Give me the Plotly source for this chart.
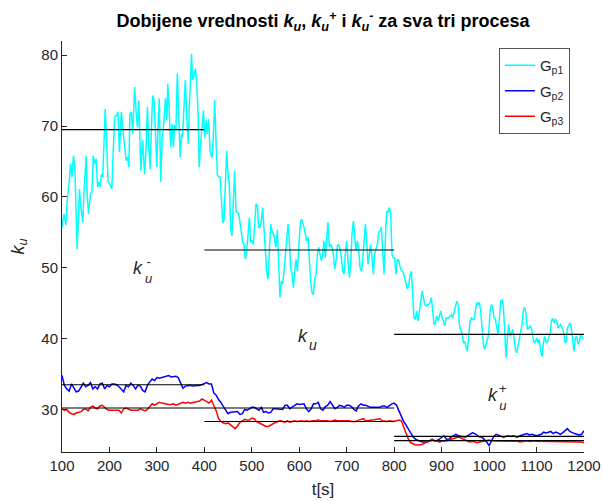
import numpy as np
import plotly.graph_objects as go

# ---------------- data ----------------
# Gp1 (cyan) -- first stretch, explicit sample times
gp1_t_a = [100,104,108,111,116,118,121,124,127,130,
           132,137,139,144,146,151,153,156,160,163,
           166,169,172,175,177,180,183,186,189,191,
           194,197,201,205,208,211,215,218,221,225,
           228,232,235,238,241,243,246,249,252,253,
           256,259,262,264,266,270,274,277,280,283,
           286,288,291,294,297,300,302,305,308,311,
           315,318,321,323,326,329,332,335,337,340,
           343,346,349,352,354,357,360,363,366,368,
           371,373,375,378,381,384,387,389,392,395,
           398,401,404,406,409,412]
gp1_a = [55.7,57.6,56,59.5,62.8,64.7,62.8,65.8,64.2,57.6,
         52.6,61.1,59,56.4,60.4,65.8,60.4,57.6,60.4,60.6,
         65.8,64.7,65.4,61.4,62.1,61.4,63.2,62.8,67.5,72.4,
         68,62.1,61.8,61.1,66.5,71.3,71.5,72,66.3,72,
         69.8,66.8,65.1,65.6,64.2,71.7,72,68.9,72.7,75.5,
         72.2,69.8,73.6,68.9,63.7,68,63.2,66.5,72.7,67,
         63.9,68.9,74.3,73.6,69.4,64.2,69.4,73.9,62.1,68,
         70.8,73.9,70.8,76,72.2,67,70.3,67,70.1,69.4,
         77.4,70.3,65.6,68.9,68.4,72.7,76.5,71.3,67.5,72.2,
         77.9,80.2,76.5,76.9,78.1,76.2,71.3,64.2,67.5,69.8,
         72.2,68.4,70.8,68.9,71,66.5]
# Gp1 second stretch (evenly sampled 416.1 .. 812.3 s)
gp1_b_span = [416.1, 812.3]
gp1_b = [65.5,68.5,73.7,68,63.2,62.8,62.8,59.9,56.4,56.6,
         60.9,66.5,63.2,61.8,55.5,54.5,59.5,63.7,58,57.8,
         57.6,56.4,55.2,53.6,53.3,51.2,52.4,55.2,57.1,53.6,
         53.8,53.3,55.7,59,58.8,55.7,55.7,56.6,58.5,54.8,
         52.4,49.5,48.4,52.4,56.2,55,55,53.8,52.9,55.4,
         51,45.8,48.1,47.7,49.5,51.9,54.3,56.2,53.8,50,
         49.1,47.2,49.5,51.2,49.5,52.9,55.7,56.9,56.4,55.7,
         54.8,53.8,54.3,51,48.1,46.5,46.2,48.4,49.1,51.9,
         52.9,51.9,51,51.9,53.8,51.4,53.8,56.4,52.9,53.3,
         52.9,51.9,49.8,51,53.1,53.3,52.6,51.4,49.5,49.1,
         51.9,53.8,51,48.6,50.5,54.8,56.6,54.8,52.4,53.8,
         52.4,50,49.5,51,53.8,56.2,53.8,50.5,51.9,53.3,
         51.4,49.1,51.9,52.6,53.3,55,55.2,55.7,52.9,49.1,
         53.8,58,57.8,58.5,57.6,51.9,51.4,51.4,49.1,51.2,
         51,50]
# Gp1 third stretch (evenly sampled 813.8 .. 1198.7 s)
gp1_c_span = [813.8, 1198.7]
gp1_c = [49.8,49.6,49.3,48.5,47.6,47,47.6,49,49.5,46.7,
         42.9,42.7,43.9,42.5,44.1,45.3,46.7,45.8,44.8,44.6,
         44.8,44.8,45.1,45.8,43.9,42,42.2,43.2,42.5,43.4,
         43.9,42.9,42.5,41.8,42.9,42.9,42.9,43.2,43.4,42.9,
         43.7,44.6,45.3,44.8,42,41.1,40.8,39.4,39.6,38.9,
         38.2,40.6,42.5,42.9,42.7,42.7,43.9,45.1,44.8,45.1,
         43.9,41.1,39.2,38.5,39.2,39.6,40.6,43.9,44.8,44.4,
         42.9,42.7,41.3,40.6,42.9,45.3,45.5,44.4,41.1,37.3,
         40.1,42,40.3,40.8,41.3,40.1,38.5,38,38.9,40.1,
         41.1,42,44.1,44.4,43.4,41.3,41.5,41.8,41.5,40.1,
         39.4,39.6,40.1,39.4,39.9,38.2,37.5,39.4,40.3,39.4,
         39.6,40.1,40.6,42.5,42.9,42.2,42.7,42.5,41.5,41.8,
         42,41.5,41.1,39.6,39.4,41.5,42,42.2,41.5,39.4,
         38.2,40.1,40.3,39.2,39.6,40.6,40.3,39.9]

# Gp2 / Gp3 sampled every 5 s from 100 to 1200 s
t23_span = [100, 1200]
gp2 = [34.8,33.4,32.9,32.6,33.6,33.1,32.5,32.6,33.1,33.7,
       33.2,33.4,33.8,32.9,33.2,32.9,33.6,33.7,32.9,33.4,
       33.2,33.6,33.6,33.5,33.2,32.8,32.5,33.4,33.2,33.7,
       33.4,32.9,33.4,33.3,32.7,32.5,33.4,33.9,34.3,34.1,
       34.5,34.4,34.5,34.7,34.7,34.8,34.6,34.7,34.7,34.5,
       33.6,33.0,33.3,33.4,33.4,33.3,33.4,33.4,33.4,33.5,
       33.6,33.8,33.6,33.6,32.3,32.0,31.4,31.0,30.4,29.8,
       29.4,29.6,29.6,29.7,29.7,29.3,29.4,30.0,29.9,30.1,
       30.3,30.3,30.1,29.9,30.3,29.6,29.7,29.5,29.6,30.1,
       30.1,30.1,30.1,30.0,30.6,30.6,30.1,30.3,30.6,30.8,
       30.7,30.8,30.8,30.1,29.7,30.1,30.8,30.8,31.0,30.1,
       29.9,30.4,30.6,31.1,30.5,30.1,30.3,30.6,30.5,30.3,
       30.6,30.6,30.4,30.0,29.8,30.5,30.8,30.6,30.6,30.4,
       30.3,30.3,30.3,30.3,30.3,30.5,30.5,30.3,30.6,30.8,
       30.9,30.6,29.8,29.0,28.3,27.8,27.2,26.6,26.1,25.8,
       25.6,25.5,25.4,25.4,25.4,25.6,25.7,25.6,25.6,25.8,
       26.1,26.3,25.8,25.8,26.1,26.3,26.5,26.3,26.2,26.1,
       26.1,26.3,26.5,26.7,26.6,26.3,26.1,26.1,25.8,25.4,
       24.9,25.6,26.2,26.5,26.4,26.3,26.1,26.2,26.3,26.2,
       26.3,26.2,26.1,26.3,26.4,26.5,26.6,26.4,26.5,26.4,
       26.3,26.4,26.5,26.8,26.7,26.8,26.9,26.6,26.8,26.7,
       26.5,26.7,27.0,27.3,26.9,26.7,26.6,26.5,26.4,26.5,
       27.0]
gp3 = [30.1,29.9,30.0,29.6,29.4,29.3,29.5,29.6,29.7,30.0,
       30.1,29.8,30.3,30.5,30.2,30.1,30.5,30.6,30.3,30.0,
       29.9,29.9,29.9,29.9,29.9,29.5,30.1,30.2,30.0,29.9,
       29.9,29.9,29.9,30.1,29.9,29.8,30.0,30.4,30.8,30.6,
       30.8,31.0,30.9,30.8,30.8,30.7,30.7,30.8,30.6,30.7,
       30.8,31.0,30.9,31.0,30.9,31.0,31.0,31.1,31.2,31.5,
       31.3,31.0,30.9,31.3,30.6,29.8,28.7,28.3,28.1,28.0,
       28.1,27.8,27.6,27.3,27.7,28.2,28.4,28.6,28.5,28.5,
       28.8,28.7,28.3,28.1,27.9,27.8,27.6,27.6,27.8,28.1,
       28.2,28.3,28.4,28.3,28.2,28.4,28.2,28.3,28.4,28.3,
       28.4,28.4,28.3,28.4,28.3,28.4,28.4,28.4,28.5,28.4,
       28.4,28.5,28.4,28.3,28.4,28.5,28.4,28.4,28.5,28.5,
       28.4,28.4,28.3,28.3,28.3,28.5,28.6,28.7,28.4,28.4,
       28.5,28.5,28.6,28.6,28.7,28.4,28.3,28.3,28.4,28.3,
       28.3,28.4,28.5,28.4,27.5,26.5,25.8,25.3,25.1,25.0,
       25.0,25.0,25.1,25.3,25.4,25.6,25.8,25.6,25.6,25.4,
       25.5,25.5,25.6,25.7,25.8,25.8,25.9,26.1,26.0,25.9,
       25.7,25.5,25.4,25.5,25.4,25.3,25.4,25.5,25.6,25.6,
       25.7,25.6,25.6,25.5,25.5,25.6,25.5,25.6,25.5,25.5,
       25.6,25.5,25.5,25.4,25.5,25.5,25.6,25.5,25.6,25.6,
       25.5,25.5,25.4,25.4,25.5,25.5,25.5,25.5,25.4,25.5,
       25.5,25.5,25.5,25.4,25.4,25.4,25.4,25.4,25.4,25.4,
       25.3]

# piecewise mean values (k_u^-, k_u, k_u^+ regions)
seg_edges = [100, 400, 800, 1200]
gp1_mean = [69.5, 52.5, 40.6]
gp2_mean = [33.5, 30.2, 26.2]
gp3_mean = [30.2, 28.3, 25.6]

series_names = ["G<sub>p1</sub>", "G<sub>p2</sub>", "G<sub>p3</sub>"]
series_colors = ["#00FFFF", "#0000FF", "#FF0000"]

# text labels: (x, y, superscript)
label_x = [261, 608, 1008]
label_y = [50.0, 40.3, 32.1]
label_sup = ["-", "", "+"]

x_ticks = list(range(100, 1201, 100))
y_ticks = [30, 40, 50, 60, 70, 80]

# ---------------- figure ----------------
FONT = "Liberation Sans, Arial, sans-serif"
AX = "#262626"

t1 = (list(gp1_t_a)
      + list(np.linspace(gp1_b_span[0], gp1_b_span[1], len(gp1_b)))
      + list(np.linspace(gp1_c_span[0], gp1_c_span[1], len(gp1_c))))
y1 = gp1_a + gp1_b + gp1_c
t23 = np.linspace(t23_span[0], t23_span[1], len(gp2))

fig = go.Figure()
for k, (xs, ys, nm, col) in enumerate([(t1, y1, series_names[0], series_colors[0]),
                                       (t23, gp2, series_names[1], series_colors[1]),
                                       (t23, gp3, series_names[2], series_colors[2])]):
    fig.add_trace(go.Scatter(x=xs, y=ys, mode="lines", name=nm,
                             legendgroup="g%d" % k,
                             line=dict(color=col, width=1.5)))

for means in [gp1_mean, gp2_mean, gp3_mean]:
    xs, ys = [], []
    for i, m in enumerate(means):
        xs += [seg_edges[i], seg_edges[i + 1], None]
        ys += [m, m, None]
    fig.add_trace(go.Scatter(x=xs, y=ys, mode="lines", showlegend=False,
                             line=dict(color="#000000", width=1.1),
                             hoverinfo="skip"))

for lx, ly, sup in zip(label_x, label_y, label_sup):
    fig.add_annotation(x=lx, y=ly, text="<i>k</i>", showarrow=False,
                       xanchor="center", yanchor="middle",
                       font=dict(family=FONT, size=18, color=AX))
    if sup:
        # superscript stacked above the subscript, as one text block
        fig.add_annotation(x=lx, y=ly, text=sup + "<br><i>u</i>", showarrow=False,
                           xanchor="center", yanchor="middle", xshift=10, yshift=-2,
                           align="center", borderpad=0,
                           font=dict(family=FONT, size=13, color=AX))
    else:
        fig.add_annotation(x=lx, y=ly, text="<i>u</i>", showarrow=False,
                           xanchor="center", yanchor="middle", xshift=10, yshift=-9,
                           borderpad=0,
                           font=dict(family=FONT, size=14, color=AX))

fig.update_layout(
    width=603, height=501,
    margin=dict(l=62, r=19, t=41, b=49, autoexpand=False),
    paper_bgcolor="white", plot_bgcolor="white",
    font=dict(family=FONT, size=15, color=AX),
    title=dict(
        text=("<b>Dobijene vrednosti <i>k<sub>u</sub></i>, "
              "<i>k<sub>u</sub><sup>+</sup></i> i "
              "<i>k<sub>u</sub><sup>-</sup></i> za sva tri procesa</b>"),
        x=0.5, xref="paper", xanchor="center",
        y=1 - 21 / 501, yref="container", yanchor="middle",
        font=dict(family=FONT, size=18, color="#000000")),
    legend=dict(x=0.973, y=0.983, xanchor="right", yanchor="top",
                bgcolor="white", bordercolor="#555555", borderwidth=1,
                font=dict(family=FONT, size=15, color=AX),
                itemwidth=30, tracegroupgap=3),
    showlegend=True,
)
fig.update_xaxes(range=[100, 1200], tickvals=x_ticks, ticks="inside", ticklen=5,
                 tickcolor=AX, showline=True, linecolor=AX, linewidth=1,
                 showgrid=False, zeroline=False, mirror=False, automargin=False,
                 tickfont=dict(family=FONT, size=15, color=AX),
                 title=dict(text="t[s]", standoff=10,
                            font=dict(family=FONT, size=17, color=AX)))
fig.update_yaxes(range=[24, 82], tickvals=y_ticks, ticks="inside", ticklen=5,
                 tickcolor=AX, showline=True, linecolor=AX, linewidth=1,
                 showgrid=False, zeroline=False, mirror=False, automargin=False,
                 tickfont=dict(family=FONT, size=15, color=AX),
                 title=dict(text="<i>k<sub>u</sub></i>", standoff=12,
                            font=dict(family=FONT, size=18, color=AX)))

fig.write_html("out.html")
